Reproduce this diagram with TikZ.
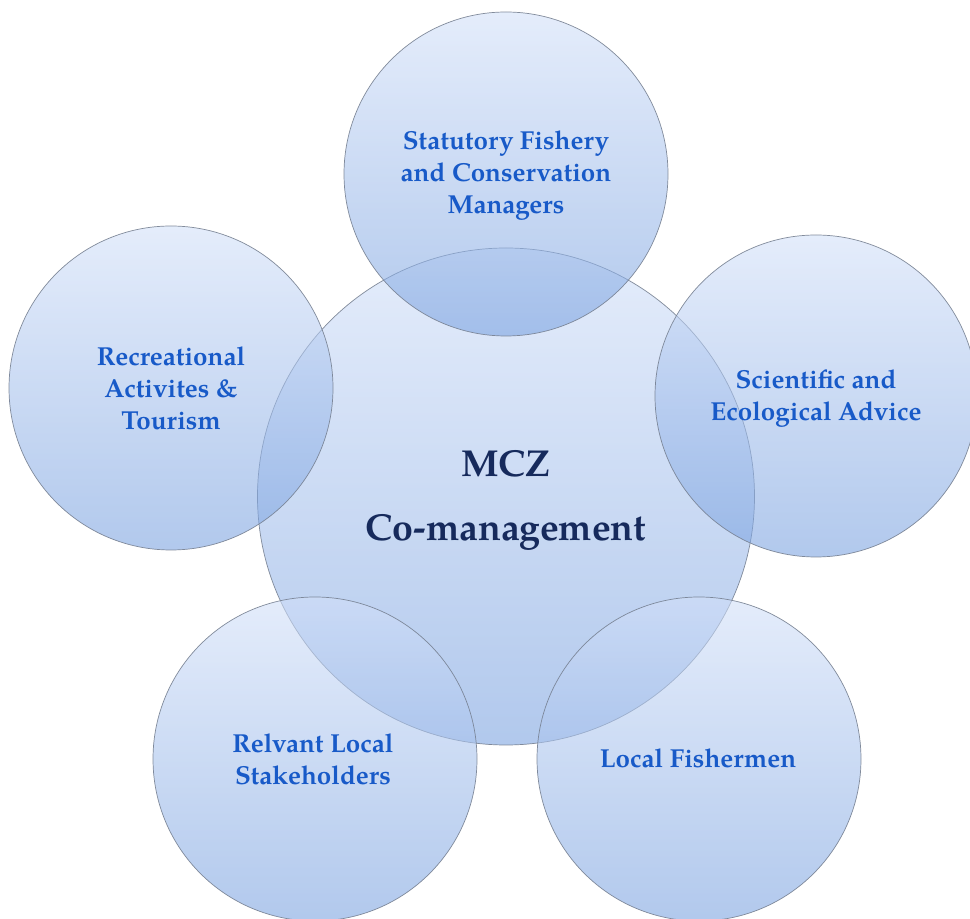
\documentclass[tikz,border=0pt]{standalone}
\usepackage{fontspec}
\setmainfont{TeX Gyre Pagella}
\definecolor{ctop}{RGB}{210,224,249}
\definecolor{cbot}{RGB}{122,162,224}
\definecolor{cline}{RGB}{118,128,145}
\definecolor{outtext}{RGB}{24,90,200}
\definecolor{midtext}{RGB}{22,42,92}
\tikzset{
  venn/.style={circle, inner sep=0pt, minimum size=#1, draw=cline, line width=0.7pt,
     top color=ctop, bottom color=cbot, fill opacity=0.58, draw opacity=0.9},
  outlabel/.style={align=center, text=outtext, font=\bfseries\fontsize{26}{32}\selectfont},
  midlabel/.style={align=center, text=midtext, font=\bfseries\fontsize{37.5}{64}\selectfont}
}
\begin{document}
\begin{tikzpicture}[x=1pt,y=1pt]
\useasboundingbox (0,0) rectangle (970,919);
\clip (0,0) rectangle (970,919);
\fill[white] (0,0) rectangle (970,919);
\node[venn=497pt] (c) at (506,422.5) {};
\node[venn=324pt] (t) at (506,745) {};
\node[venn=322pt] (r) at (816,523) {};
\node[venn=324pt] (l) at (171,531) {};
\node[venn=324pt] (bl) at (315,160) {};
\node[venn=324pt] (br) at (699,160) {};
\node[midlabel] (ct) at (506,419) {MCZ\\Co-management};
\node[outlabel] (tt) at (506,743) {Statutory Fishery\\and Conservation\\Managers};
\node[outlabel] (rt) at (816,520) {Scientific and\\Ecological Advice};
\node[outlabel] (lt) at (171,531) {Recreational\\Activites \&\\Tourism};
\node[outlabel] (blt) at (313,160) {Relvant Local\\Stakeholders};
\node[outlabel] (brt) at (698,161) {Local Fishermen};
\end{tikzpicture}
\end{document}
